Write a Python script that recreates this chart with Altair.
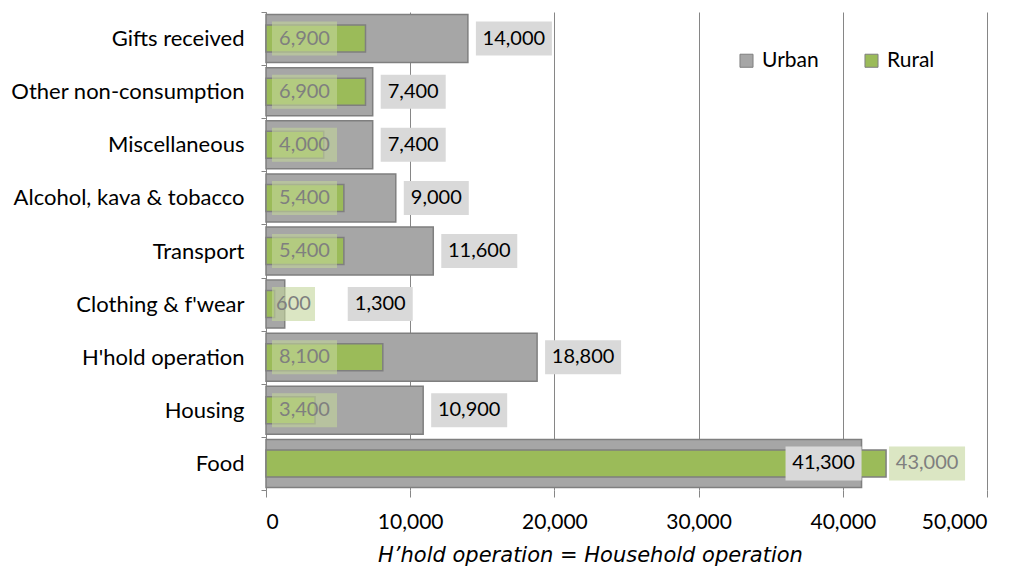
import altair as alt
import pandas as pd

categories = ["Gifts received", "Other non-consumption", "Miscellaneous",
              "Alcohol, kava & tobacco", "Transport", "Clothing & f'wear",
              "H'hold operation", "Housing", "Food"]
urban = [14000, 7400, 7400, 9000, 11600, 1300, 18800, 10900, 41300]
rural = [6900, 6900, 4000, 5400, 5400, 600, 8100, 3400, 43000]
urban_label_place = ["out", "out", "out", "out", "out", "far", "out", "out", "in"]
rural_label_place = ["start", "start", "start", "start", "start", "start", "start", "start", "out"]

FONT = "Lato"
FS = 21
W, H = 721, 478
XMAX = 50000
K = XMAX / W  # data units per pixel

rows = []
for c, u, r in zip(categories, urban, rural):
    rows.append({"cat": c, "series": "Urban", "value": u})
    rows.append({"cat": c, "series": "Rural", "value": r})
bars = pd.DataFrame(rows)

lab = []
for c, u, r, up, rp in zip(categories, urban, rural, urban_label_place, rural_label_place):
    ut = f"{u:,}"
    uw = 11 * len(ut) + 10
    if up == "out":
        us = u + 8 * K
    elif up == "far":
        us = u + 63 * K
    else:
        us = u - uw * K
    lab.append({"cat": c, "series": "Urban", "text": ut, "x0": us, "x1": us + uw * K,
                "xm": us + uw * K / 2})
    rt = f"{r:,}"
    rw = 11 * len(rt) + 10
    if rp == "start":
        rs = 6 * K
    else:
        rs = r + 3 * K
    lab.append({"cat": c, "series": "Rural", "text": rt, "x0": rs, "x1": rs + rw * K,
                "xm": rs + rw * K / 2})
labels = pd.DataFrame(lab)

xscale = alt.Scale(domain=[0, XMAX], nice=False)
yenc = alt.Y("cat:N", sort=categories, title=None,
             scale=alt.Scale(paddingInner=0, paddingOuter=0),
             axis=alt.Axis(tickBand="extent", domainColor="#868686", tickColor="#868686",
                           tickSize=5, labelFontSize=22, labelFont=FONT, labelColor="#000000",
                           labelPadding=17, labelLimit=300))
color = alt.Color("series:N",
                  scale=alt.Scale(domain=["Urban", "Rural"], range=["#A6A6A6", "#9BBB59"]),
                  legend=alt.Legend(title=None, orient="none", legendX=470, legendY=38,
                                    direction="horizontal", symbolType="square",
                                    symbolSize=170, symbolStrokeColor="#7F7F7F",
                                    symbolStrokeWidth=1, labelFontSize=FS, labelFont=FONT,
                                    labelColor="#000000", columnPadding=42, labelOffset=5))

xenc = alt.X("value:Q", scale=xscale, title="H\u2019hold operation = Household operation",
             axis=alt.Axis(values=[0, 10000, 20000, 30000, 40000, 50000], format=",d",
                           grid=True, gridColor="#868686", tickColor="#868686", tickSize=7,
                           domain=False, labelFontSize=FS, labelFont=FONT, labelColor="#000000",
                           labelPadding=14, titleFont="DejaVu Sans", titleFontSize=21,
                           titleFontStyle="italic", titleFontWeight="normal",
                           titleColor="#000000", titlePadding=12, titleX=324))

base_bars = alt.Chart(bars)
urban_bars = base_bars.transform_filter(alt.datum.series == "Urban").mark_bar(
    size=48, stroke="#7F7F7F", strokeWidth=1.5).encode(x=xenc, y=yenc, color=color)
rural_bars = base_bars.transform_filter(alt.datum.series == "Rural").mark_bar(
    size=27, stroke="#7F7F7F", strokeWidth=1.5).encode(x="value:Q", y=alt.Y("cat:N", sort=categories), color=color)

base_lab = alt.Chart(labels)
ybox = alt.Y("cat:N", sort=categories)
urban_box = base_lab.transform_filter(alt.datum.series == "Urban").mark_bar(
    size=34, color="#D9D9D9").encode(x="x0:Q", x2="x1:Q", y=ybox)
urban_text = base_lab.transform_filter(alt.datum.series == "Urban").mark_text(
    font=FONT, fontSize=FS - 1, color="#000000", align="center", baseline="middle").encode(
    x="xm:Q", y=ybox, text="text:N")
rural_box = base_lab.transform_filter(alt.datum.series == "Rural").mark_bar(
    size=34, color="#C3D69B", opacity=0.6).encode(x="x0:Q", x2="x1:Q", y=ybox)
rural_text = base_lab.transform_filter(alt.datum.series == "Rural").mark_text(
    font=FONT, fontSize=FS - 1, color="#7F7F7F", align="center", baseline="middle").encode(
    x="xm:Q", y=ybox, text="text:N")

chart = alt.layer(urban_bars, rural_bars, urban_box, urban_text, rural_box, rural_text).properties(
    width=W, height=H, autosize=alt.AutoSizeParams(type="none"),
    padding={"top": 4, "left": 258, "right": 20, "bottom": 78}
).configure_view(stroke=None).configure_axisY(grid=False)

chart.save("out.html", embed_options={"renderer": "svg", "actions": False})
